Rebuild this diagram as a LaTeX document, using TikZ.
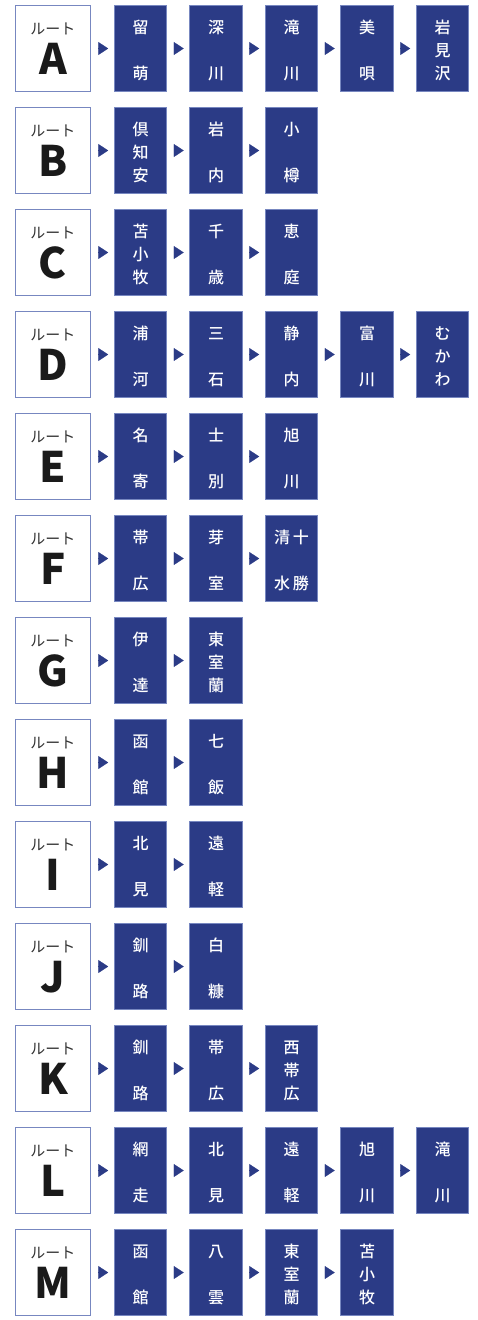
\documentclass[tikz,border=0pt]{standalone}
\usepackage{fontspec}
\newfontfamily\jpfont{Noto Sans CJK JP}
\newfontfamily\jpmid{Noto Sans CJK JP Medium}
\usetikzlibrary{positioning, arrows.meta}
\definecolor{routeblue}{HTML}{2B3B86}
\definecolor{edgeblue}{HTML}{7787C0}
\definecolor{inkcolor}{HTML}{1A1A1A}
\definecolor{tagtext}{HTML}{333333}

\begin{document}
\begin{tikzpicture}[
  x=1pt, y=1pt,
  node distance=15.5pt and 23pt,
]

\tikzset{
  routetag/.style={anchor=center, yshift=-24pt,
    font=\jpfont\fontsize{15}{15}\selectfont, text=tagtext},
  routeletter/.style={anchor=center, yshift=-53.5pt,
    font=\jpfont\bfseries\fontsize{42}{42}\selectfont, text=inkcolor},
  routebox/.style={rectangle, draw=edgeblue, fill=white, line width=0.8pt,
    minimum width=75.5pt, minimum height=86.5pt, inner sep=0pt, outer sep=0pt,
    label={[routetag]north:ルート},
    label={[routeletter]north:#1}},
  station/.style={rectangle, draw=edgeblue, fill=routeblue, line width=0.8pt,
    text=white, font=\jpmid\fontsize{16}{23}\selectfont, align=center,
    text height=62pt, text depth=0pt,
    minimum width=52.5pt, minimum height=86.5pt, inner sep=0pt, outer sep=0pt},
  flowline/.style={-{Triangle[length=10pt, width=13pt]}, routeblue,
    shorten <=7pt, shorten >=6pt},
}

\useasboundingbox (0,0) rectangle (477,-1320);

% ---------------------------------------------------------------
% Route A
% ---------------------------------------------------------------
\node[routebox=A] (rA) at (53,-48.5) {};
\node[station, right=23.5pt of rA] (a1) {留\\[23pt]萌};
\node[station, right=of a1]        (a2) {深\\[23pt]川};
\node[station, right=of a2]        (a3) {滝\\[23pt]川};
\node[station, right=of a3]        (a4) {美\\[23pt]唄};
\node[station, right=of a4]        (a5) {岩\\見\\沢};
\draw[flowline] (rA) -- (a1);
\draw[flowline] (a1) -- (a2);
\draw[flowline] (a2) -- (a3);
\draw[flowline] (a3) -- (a4);
\draw[flowline] (a4) -- (a5);

% ---------------------------------------------------------------
% Route B
% ---------------------------------------------------------------
\node[routebox=B, below=of rA] (rB) {};
\node[station, right=23.5pt of rB] (b1) {倶\\知\\安};
\node[station, right=of b1]        (b2) {岩\\[23pt]内};
\node[station, right=of b2]        (b3) {小\\[23pt]樽};
\draw[flowline] (rB) -- (b1);
\draw[flowline] (b1) -- (b2);
\draw[flowline] (b2) -- (b3);

% ---------------------------------------------------------------
% Route C
% ---------------------------------------------------------------
\node[routebox=C, below=of rB] (rC) {};
\node[station, right=23.5pt of rC] (c1) {苫\\小\\牧};
\node[station, right=of c1]        (c2) {千\\[23pt]歳};
\node[station, right=of c2]        (c3) {恵\\[23pt]庭};
\draw[flowline] (rC) -- (c1);
\draw[flowline] (c1) -- (c2);
\draw[flowline] (c2) -- (c3);

% ---------------------------------------------------------------
% Route D
% ---------------------------------------------------------------
\node[routebox=D, below=of rC] (rD) {};
\node[station, right=23.5pt of rD] (d1) {浦\\[23pt]河};
\node[station, right=of d1]        (d2) {三\\[23pt]石};
\node[station, right=of d2]        (d3) {静\\[23pt]内};
\node[station, right=of d3]        (d4) {富\\[23pt]川};
\node[station, right=of d4]        (d5) {む\\か\\わ};
\draw[flowline] (rD) -- (d1);
\draw[flowline] (d1) -- (d2);
\draw[flowline] (d2) -- (d3);
\draw[flowline] (d3) -- (d4);
\draw[flowline] (d4) -- (d5);

% ---------------------------------------------------------------
% Route E
% ---------------------------------------------------------------
\node[routebox=E, below=of rD] (rE) {};
\node[station, right=23.5pt of rE] (e1) {名\\[23pt]寄};
\node[station, right=of e1]        (e2) {士\\[23pt]別};
\node[station, right=of e2]        (e3) {旭\\[23pt]川};
\draw[flowline] (rE) -- (e1);
\draw[flowline] (e1) -- (e2);
\draw[flowline] (e2) -- (e3);

% ---------------------------------------------------------------
% Route F
% ---------------------------------------------------------------
\node[routebox=F, below=of rE] (rF) {};
\node[station, right=23.5pt of rF] (f1) {帯\\[23pt]広};
\node[station, right=of f1]        (f2) {芽\\[23pt]室};
\node[station, right=of f2]        (f3) {清\hspace{3pt}十\\[23pt]水\hspace{3pt}勝};
\draw[flowline] (rF) -- (f1);
\draw[flowline] (f1) -- (f2);
\draw[flowline] (f2) -- (f3);

% ---------------------------------------------------------------
% Route G
% ---------------------------------------------------------------
\node[routebox=G, below=of rF] (rG) {};
\node[station, right=23.5pt of rG] (g1) {伊\\[23pt]達};
\node[station, right=of g1]        (g2) {東\\室\\蘭};
\draw[flowline] (rG) -- (g1);
\draw[flowline] (g1) -- (g2);

% ---------------------------------------------------------------
% Route H
% ---------------------------------------------------------------
\node[routebox=H, below=of rG] (rH) {};
\node[station, right=23.5pt of rH] (h1) {函\\[23pt]館};
\node[station, right=of h1]        (h2) {七\\[23pt]飯};
\draw[flowline] (rH) -- (h1);
\draw[flowline] (h1) -- (h2);

% ---------------------------------------------------------------
% Route I
% ---------------------------------------------------------------
\node[routebox=I, below=of rH] (rI) {};
\node[station, right=23.5pt of rI] (i1) {北\\[23pt]見};
\node[station, right=of i1]        (i2) {遠\\[23pt]軽};
\draw[flowline] (rI) -- (i1);
\draw[flowline] (i1) -- (i2);

% ---------------------------------------------------------------
% Route J
% ---------------------------------------------------------------
\node[routebox=J, below=of rI] (rJ) {};
\node[station, right=23.5pt of rJ] (j1) {釧\\[23pt]路};
\node[station, right=of j1]        (j2) {白\\[23pt]糠};
\draw[flowline] (rJ) -- (j1);
\draw[flowline] (j1) -- (j2);

% ---------------------------------------------------------------
% Route K
% ---------------------------------------------------------------
\node[routebox=K, below=of rJ] (rK) {};
\node[station, right=23.5pt of rK] (k1) {釧\\[23pt]路};
\node[station, right=of k1]        (k2) {帯\\[23pt]広};
\node[station, right=of k2]        (k3) {西\\帯\\広};
\draw[flowline] (rK) -- (k1);
\draw[flowline] (k1) -- (k2);
\draw[flowline] (k2) -- (k3);

% ---------------------------------------------------------------
% Route L
% ---------------------------------------------------------------
\node[routebox=L, below=of rK] (rL) {};
\node[station, right=23.5pt of rL] (l1) {網\\[23pt]走};
\node[station, right=of l1]        (l2) {北\\[23pt]見};
\node[station, right=of l2]        (l3) {遠\\[23pt]軽};
\node[station, right=of l3]        (l4) {旭\\[23pt]川};
\node[station, right=of l4]        (l5) {滝\\[23pt]川};
\draw[flowline] (rL) -- (l1);
\draw[flowline] (l1) -- (l2);
\draw[flowline] (l2) -- (l3);
\draw[flowline] (l3) -- (l4);
\draw[flowline] (l4) -- (l5);

% ---------------------------------------------------------------
% Route M
% ---------------------------------------------------------------
\node[routebox=M, below=of rL] (rM) {};
\node[station, right=23.5pt of rM] (m1) {函\\[23pt]館};
\node[station, right=of m1]        (m2) {八\\[23pt]雲};
\node[station, right=of m2]        (m3) {東\\室\\蘭};
\node[station, right=of m3]        (m4) {苫\\小\\牧};
\draw[flowline] (rM) -- (m1);
\draw[flowline] (m1) -- (m2);
\draw[flowline] (m2) -- (m3);
\draw[flowline] (m3) -- (m4);

\end{tikzpicture}
\end{document}
